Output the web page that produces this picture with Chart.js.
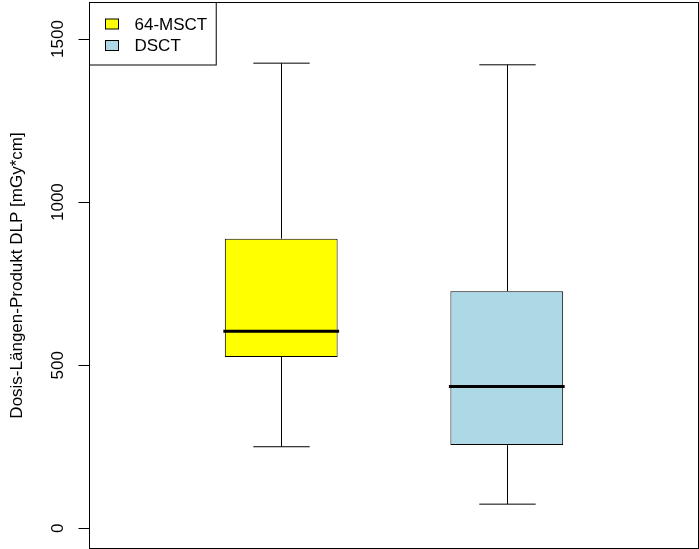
<!DOCTYPE html>
<html>
<head>
<meta charset="utf-8">
<script src="https://cdn.jsdelivr.net/npm/chart.js@4"></script>
<style>
  html, body { margin: 0; padding: 0; background: #fff; }
  #wrap { width: 699px; height: 549px; }
</style>
</head>
<body>
<div id="wrap"><canvas id="DlpBoxplot"></canvas></div>
<script>
const groups = ['64-MSCT', 'DSCT']
const positions = [1, 2]
const whiskerLow = [250, 74]
const q1 = [525, 255]
const medians = [604, 435]
const q3 = [888, 727]
const whiskerHigh = [1426, 1421]
const boxColors = ['#FFFF00', '#ADD8E6']
const yTicks = [0, 500, 1000, 1500]

const FONT = "'Liberation Sans', Arial, sans-serif"

// whiskers, caps and medians on top of the floating bars
const boxplotExtras = {
  id: 'boxplotExtras',
  afterDatasetsDraw(chart) {
    const { ctx, scales } = chart
    const meta = chart.getDatasetMeta(0)
    ctx.save()
    ctx.strokeStyle = '#000'
    meta.data.forEach((bar, i) => {
      const x = Math.round(bar.x) + 0.5
      const capHalf = bar.width / 4
      const yLow = scales.y.getPixelForValue(whiskerLow[i])
      const yQ1 = scales.y.getPixelForValue(q1[i])
      const yQ3 = scales.y.getPixelForValue(q3[i])
      const yHigh = scales.y.getPixelForValue(whiskerHigh[i])
      ctx.lineWidth = 1
      ctx.lineCap = 'butt'
      ctx.beginPath()
      ctx.moveTo(x, yQ3)
      ctx.lineTo(x, yHigh)
      ctx.moveTo(x - capHalf, yHigh)
      ctx.lineTo(x + capHalf, yHigh)
      ctx.moveTo(x, yQ1)
      ctx.lineTo(x, yLow)
      ctx.moveTo(x - capHalf, yLow)
      ctx.lineTo(x + capHalf, yLow)
      ctx.stroke()

      const yMed = scales.y.getPixelForValue(medians[i])
      ctx.lineWidth = 3
      ctx.lineCap = 'square'
      ctx.beginPath()
      ctx.moveTo(bar.x - bar.width / 2, yMed)
      ctx.lineTo(bar.x + bar.width / 2, yMed)
      ctx.stroke()
    })
    ctx.restore()
  }
}

// plot frame and the boxed legend in the top-left corner
const frameAndLegend = {
  id: 'frameAndLegend',
  afterDraw(chart) {
    const { ctx, chartArea } = chart
    ctx.save()
    ctx.strokeStyle = '#000'
    ctx.lineWidth = 1
    ctx.strokeRect(chartArea.left, chartArea.top,
      chartArea.right - chartArea.left, chartArea.bottom - chartArea.top)

    ctx.font = '17px ' + FONT
    const textW = Math.max(...groups.map(g => ctx.measureText(g).width))
    const lx = chartArea.left
    const ly = chartArea.top
    const textX = lx + 45
    const boxW = textX - lx + textW + 9
    ctx.fillStyle = '#fff'
    ctx.fillRect(lx, ly, boxW, 62.5)
    ctx.strokeRect(lx, ly, boxW, 62.5)

    groups.forEach((g, i) => {
      const cy = ly + 21.5 + i * 21.5
      ctx.fillStyle = boxColors[i]
      ctx.fillRect(lx + 16, cy - 5, 13, 10)
      ctx.strokeStyle = '#000'
      ctx.strokeRect(lx + 16, cy - 5, 13, 10)
      ctx.fillStyle = '#000'
      ctx.textBaseline = 'middle'
      ctx.textAlign = 'left'
      ctx.fillText(g, textX, cy + 1)
    })
    ctx.restore()
  }
}

const ctx = document.getElementById('DlpBoxplot')
new Chart(ctx, {
  type: 'bar',
  data: {
    datasets: [
      {
        label: 'DLP',
        data: positions.map((p, i) => ({ x: p, y: [q1[i], q3[i]] })),
        backgroundColor: boxColors,
        borderColor: '#000',
        borderWidth: 1,
        borderSkipped: false,
        categoryPercentage: 1,
        barPercentage: 0.5
      }
    ]
  },
  options: {
    responsive: true,
    maintainAspectRatio: false,
    animation: false,
    layout: {
      padding: { left: 0, top: 2.5, right: 0.5, bottom: 0.5 }
    },
    plugins: {
      legend: { display: false },
      tooltip: { enabled: false },
      title: { display: false }
    },
    scales: {
      x: {
        type: 'linear',
        min: 0.15,
        max: 2.85,
        offset: false,
        display: false,
        afterBuildTicks: scale => {
          scale.ticks = positions.map(v => ({ value: v }))
        }
      },
      y: {
        min: -62,
        max: 1612,
        afterBuildTicks: scale => {
          scale.ticks = yTicks.map(v => ({ value: v }))
        },
        afterFit: scale => {
          scale.width = 89.5
          // rotated tick labels should not push the plot area in
          scale.paddingTop = 0
          scale.paddingBottom = 0
        },
        border: { display: false },
        grid: {
          drawOnChartArea: false,
          drawTicks: true,
          tickLength: 11,
          color: '#000',
          lineWidth: 1
        },
        ticks: {
          minRotation: 90,
          maxRotation: 90,
          crossAlign: 'center',
          padding: 1,
          color: '#000',
          font: { family: FONT, size: 17 },
          callback: value => String(value)
        },
        title: {
          display: true,
          text: 'Dosis-Längen-Produkt DLP [mGy*cm]',
          color: '#000',
          font: { family: FONT, size: 17 },
          padding: { top: 7, bottom: 0 }
        }
      }
    }
  },
  plugins: [boxplotExtras, frameAndLegend]
})
</script>
</body>
</html>
